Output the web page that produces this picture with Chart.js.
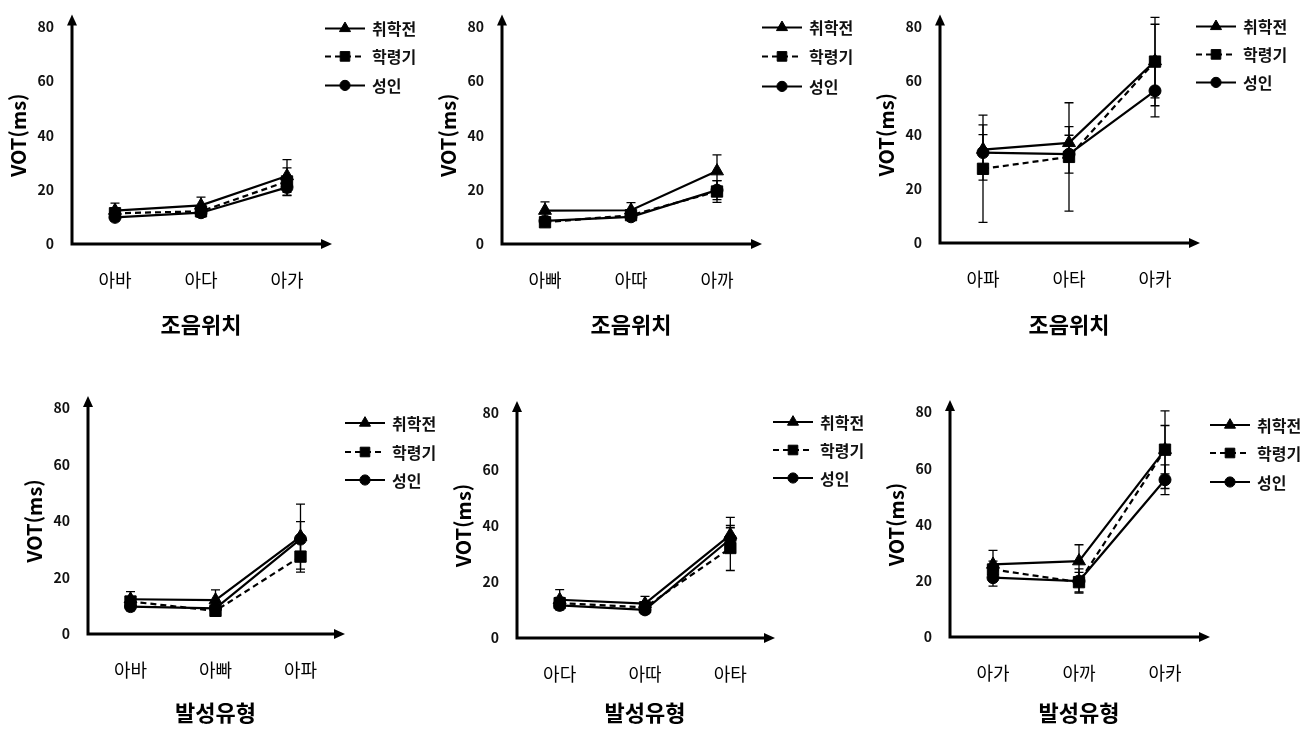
<!DOCTYPE html>
<html lang="ko">
<head>
<meta charset="utf-8">
<title>VOT 조음위치 / 발성유형</title>
<script src="https://cdn.jsdelivr.net/npm/chart.js@4.4.1/dist/chart.umd.min.js"></script>
<style>
  html, body { margin: 0; padding: 0; background: #fff; }
  body { width: 1309px; height: 733px; position: relative; overflow: hidden; }
  .panel { position: absolute; }
</style>
</head>
<body>
<div class="panel" style="left:0px;top:0px;width:445px;height:350px"><canvas id="c1"></canvas></div>
<div class="panel" style="left:430px;top:0px;width:445px;height:350px"><canvas id="c2"></canvas></div>
<div class="panel" style="left:860px;top:0px;width:449px;height:350px"><canvas id="c3"></canvas></div>
<div class="panel" style="left:0px;top:380px;width:450px;height:353px"><canvas id="c4"></canvas></div>
<div class="panel" style="left:430px;top:380px;width:450px;height:353px"><canvas id="c5"></canvas></div>
<div class="panel" style="left:860px;top:380px;width:449px;height:353px"><canvas id="c6"></canvas></div>
<script>
// series names and y ticks shared by all six panels
const seriesLabels = ['취학전', '학령기', '성인'];
const yTicks = [0, 20, 40, 60, 80];
const placeTitle = '조음위치';
const phonationTitle = '발성유형';
const yTitle = 'VOT(ms)';

// top row: 조음위치 (평음 / 경음 / 격음)
const cats1 = ['아바', '아다', '아가'];
const pre1 = [12.3, 14.2, 25.0];
const sch1 = [11.3, 12.0, 23.0];
const adu1 = [9.8, 11.5, 20.8];
const preErr1 = [2.7, 3.0, 6.0];
const schErr1 = [2.0, 2.0, 5.0];
const aduErr1 = [1.5, 1.5, 3.0];

const cats2 = ['아빠', '아따', '아까'];
const pre2 = [12.3, 12.4, 26.8];
const sch2 = [8.0, 10.6, 19.3];
const adu2 = [8.5, 10.0, 19.8];
const preErr2 = [3.2, 2.8, 6.0];
const schErr2 = [1.5, 1.5, 4.0];
const aduErr2 = [1.5, 1.2, 3.5];

const cats3 = ['아파', '아타', '아카'];
const pre3 = [34.5, 37.0, 67.2];
const sch3 = [27.4, 31.8, 67.0];
const adu3 = [33.4, 32.8, 56.2];
const preErr3 = [5.5, 6.0, 13.6];
const schErr3 = [19.8, 20.0, 16.3];
const aduErr3 = [10.2, 7.0, 9.6];

// bottom row: 발성유형 (양순 / 치경 / 연구개)
const cats4 = ['아바', '아빠', '아파'];
const pre4 = [12.3, 12.0, 34.5];
const sch4 = [11.5, 8.2, 27.4];
const adu4 = [9.7, 9.1, 33.6];
const preErr4 = [2.7, 3.6, 11.5];
const schErr4 = [1.5, 1.5, 5.5];
const aduErr4 = [1.5, 1.5, 6.2];

const cats5 = ['아다', '아따', '아타'];
const pre5 = [13.6, 12.2, 36.7];
const sch5 = [12.4, 10.9, 32.0];
const adu5 = [11.6, 10.0, 35.2];
const preErr5 = [3.6, 2.6, 6.2];
const schErr5 = [2.0, 2.0, 8.0];
const aduErr5 = [1.5, 1.5, 4.0];

const cats6 = ['아가', '아까', '아카'];
const pre6 = [25.8, 27.0, 66.6];
const sch6 = [24.0, 19.5, 66.6];
const adu6 = [21.1, 19.9, 55.9];
const preErr6 = [5.0, 5.8, 13.8];
const schErr6 = [3.0, 3.5, 8.6];
const aduErr6 = [3.0, 4.3, 5.3];

Chart.defaults.font.family = "'Noto Sans CJK KR', 'Noto Sans', sans-serif";
Chart.defaults.color = '#111';

// marker + line style per series
const seriesStyles = [
    { pointStyle: 'triangle', pointRadius: 7.5, borderDash: [] },
    { pointStyle: 'rect', pointRadius: 8, borderDash: [6, 4] },
    { pointStyle: 'circle', pointRadius: 6, borderDash: [] }
];

function drawMarker(ctx, style, radius, x, y) {
    if (Chart.helpers && Chart.helpers.drawPoint) {
        Chart.helpers.drawPoint(ctx, { pointStyle: style, radius: radius, borderWidth: 1, rotation: 0 }, x, y);
        return;
    }
    ctx.beginPath();
    ctx.arc(x, y, radius, 0, Math.PI * 2);
    ctx.fill();
}

// black axes with arrow heads
const arrowAxes = {
    id: 'arrowAxes',
    beforeDatasetsDraw(chart) {
        const { ctx, chartArea: a } = chart;
        ctx.save();
        ctx.strokeStyle = '#000';
        ctx.fillStyle = '#000';
        ctx.lineWidth = 3;
        ctx.setLineDash([]);
        ctx.beginPath();
        ctx.moveTo(a.left, a.bottom + 1.5);
        ctx.lineTo(a.left, a.top - 4);
        ctx.moveTo(a.left - 1.5, a.bottom);
        ctx.lineTo(a.right - 6, a.bottom);
        ctx.stroke();
        ctx.beginPath();
        ctx.moveTo(a.left, a.top - 12);
        ctx.lineTo(a.left - 5, a.top - 1);
        ctx.lineTo(a.left + 5, a.top - 1);
        ctx.closePath();
        ctx.fill();
        ctx.beginPath();
        ctx.moveTo(a.right + 2, a.bottom);
        ctx.lineTo(a.right - 9, a.bottom - 5);
        ctx.lineTo(a.right - 9, a.bottom + 5);
        ctx.closePath();
        ctx.fill();
        ctx.restore();
    }
};

// standard deviation bars, placed through the chart's scales
const errorBars = {
    id: 'errorBars',
    beforeDatasetsDraw(chart) {
        const { ctx, scales } = chart;
        ctx.save();
        ctx.strokeStyle = '#000';
        ctx.lineWidth = 1.3;
        ctx.setLineDash([]);
        chart.data.datasets.forEach(ds => {
            if (!ds.errors) return;
            ds.data.forEach((v, i) => {
                const x = scales.x.getPixelForValue(i);
                const yTop = scales.y.getPixelForValue(v + ds.errors[i]);
                const yBot = scales.y.getPixelForValue(v - ds.errors[i]);
                ctx.beginPath();
                ctx.moveTo(x, yTop);
                ctx.lineTo(x, yBot);
                ctx.moveTo(x - 4.5, yTop);
                ctx.lineTo(x + 4.5, yTop);
                ctx.moveTo(x - 4.5, yBot);
                ctx.lineTo(x + 4.5, yBot);
                ctx.stroke();
            });
        });
        ctx.restore();
    }
};

// legend: short line with the marker in the middle, label to the right
const lineLegend = {
    id: 'lineLegend',
    afterDraw(chart) {
        const opt = chart.options.plugins.lineLegend;
        const { ctx, chartArea: a } = chart;
        chart.data.datasets.forEach((ds, i) => {
            const x0 = a.right + opt.dx;
            const y = a.top + opt.rows[i];
            ctx.save();
            ctx.strokeStyle = '#000';
            ctx.fillStyle = '#000';
            ctx.lineWidth = 2;
            ctx.setLineDash(ds.borderDash || []);
            ctx.beginPath();
            ctx.moveTo(x0, y);
            ctx.lineTo(x0 + 40, y);
            ctx.stroke();
            ctx.setLineDash([]);
            ctx.lineWidth = 1;
            drawMarker(ctx, ds.pointStyle, ds.pointRadius * 0.85, x0 + 20, y);
            ctx.font = "bold 16px 'Noto Sans CJK KR', sans-serif";
            ctx.textBaseline = 'middle';
            ctx.fillStyle = '#111';
            ctx.fillText(ds.label, x0 + 47, y + 1);
            ctx.restore();
        });
    }
};

function makePanel(id, cats, means, errs, xTitle, box) {
    const ctx = document.getElementById(id).getContext('2d');
    return new Chart(ctx, {
        type: 'line',
        data: {
            labels: cats,
            datasets: means.map((m, i) => ({
                label: seriesLabels[i],
                data: m,
                errors: errs[i],
                borderColor: '#000',
                backgroundColor: '#000',
                borderWidth: 2.2,
                borderDash: seriesStyles[i].borderDash,
                pointStyle: seriesStyles[i].pointStyle,
                pointRadius: seriesStyles[i].pointRadius,
                pointBorderWidth: 1,
                tension: 0,
                clip: false
            }))
        },
        options: {
            responsive: true,
            maintainAspectRatio: false,
            animation: false,
            events: [],
            layout: {
                padding: { left: box.padLeft, top: box.top, right: box.right, bottom: 0 }
            },
            plugins: {
                legend: { display: false },
                tooltip: { enabled: false },
                lineLegend: { dx: box.legendDx, rows: box.legendRows }
            },
            scales: {
                x: {
                    offset: true,
                    grid: { display: false, drawTicks: false },
                    border: { display: false },
                    ticks: { padding: 25, font: { size: 18 }, color: '#000' },
                    title: {
                        display: true,
                        text: xTitle,
                        font: { size: 22, weight: 'bold' },
                        color: '#000',
                        padding: { top: 0, bottom: box.titlePad }
                    },
                    afterFit: s => { s.height = box.xHeight; }
                },
                y: {
                    min: yTicks[0],
                    max: yTicks[yTicks.length - 1],
                    grid: { display: false, drawTicks: false },
                    border: { display: false },
                    afterBuildTicks: s => { s.ticks = yTicks.map(v => ({ value: v })); },
                    ticks: { padding: 18, font: { size: 14, weight: 'bold' }, color: '#111' },
                    title: {
                        display: true,
                        text: yTitle,
                        font: { size: 20, weight: 'bold' },
                        color: '#000',
                        padding: { top: 6, bottom: 0 }
                    },
                    afterFit: s => { s.width = 72; }
                }
            }
        },
        plugins: [arrowAxes, errorBars, lineLegend]
    });
}

makePanel('c1', cats1, [pre1, sch1, adu1], [preErr1, schErr1, aduErr1], placeTitle,
    { padLeft: 0, top: 22, right: 115, xHeight: 106, titlePad: 12, legendDx: -5, legendRows: [2, 30, 59] });
makePanel('c2', cats2, [pre2, sch2, adu2], [preErr2, schErr2, aduErr2], placeTitle,
    { padLeft: 0, top: 22, right: 115, xHeight: 106, titlePad: 12, legendDx: 2, legendRows: [1, 30, 60] });
makePanel('c3', cats3, [pre3, sch3, adu3], [preErr3, schErr3, aduErr3], placeTitle,
    { padLeft: 8, top: 22, right: 111, xHeight: 107, titlePad: 12, legendDx: -2, legendRows: [0, 28, 56] });
makePanel('c4', cats4, [pre4, sch4, adu4], [preErr4, schErr4, aduErr4], phonationTitle,
    { padLeft: 16, top: 28, right: 107, xHeight: 99, titlePad: 7, legendDx: 2, legendRows: [15, 44, 72] });
makePanel('c5', cats5, [pre5, sch5, adu5], [preErr5, schErr5, aduErr5], phonationTitle,
    { padLeft: 15, top: 33, right: 107, xHeight: 95, titlePad: 7, legendDx: 0, legendRows: [9, 37, 65] });
makePanel('c6', cats6, [pre6, sch6, adu6], [preErr6, schErr6, aduErr6], phonationTitle,
    { padLeft: 18, top: 32, right: 101, xHeight: 96, titlePad: 7, legendDx: 2, legendRows: [13, 41, 70] });
</script>
</body>
</html>
